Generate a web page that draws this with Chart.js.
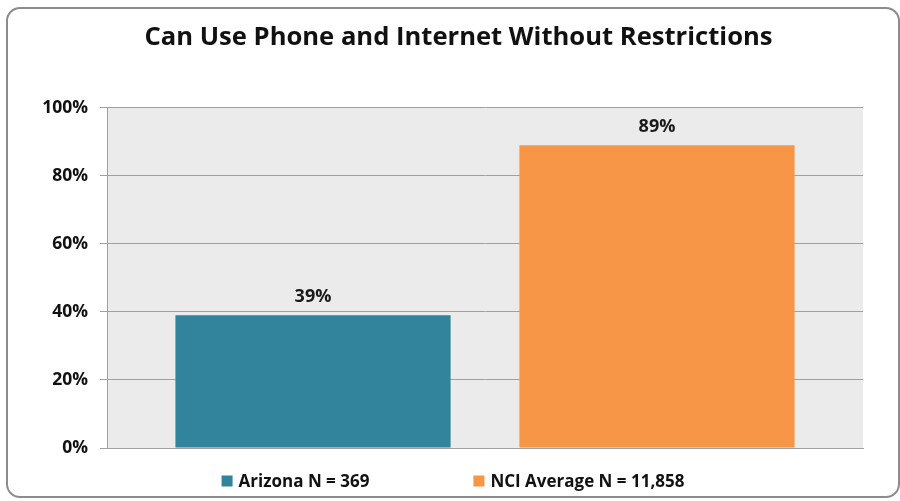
<!DOCTYPE html>
<html>
<head>
<meta charset="utf-8">
<script src="https://cdn.jsdelivr.net/npm/chart.js@4.4.0/dist/chart.umd.min.js"></script>
<style>
  body { margin: 0; background: #fff; }
  #frame {
    position: absolute; left: 6px; top: 7px; width: 890px; height: 487px;
    border: 2px solid #8c8c8c; border-radius: 14px; background: #fff;
  }
  #wrap { position: absolute; left: 0; top: 0; width: 890px; height: 487px; }
</style>
</head>
<body>
<div id="frame"><div id="wrap"><canvas id="chart"></canvas></div></div>
<script>
// data
const categories = [''];
const seriesNames = ['Arizona N = 369', 'NCI Average N = 11,858'];
const seriesValues = [[39], [89]];
const seriesColors = ['#31849b', '#f79646'];
const yTicks = [0, 20, 40, 60, 80, 100];

const fontFamily = '"Open Sans", "DejaVu Sans", sans-serif';

// gray plot area
const plotBg = {
    id: 'plotBg',
    beforeDraw(chart) {
        const a = chart.chartArea;
        const ctx = chart.ctx;
        ctx.save();
        ctx.fillStyle = '#ebebeb';
        ctx.fillRect(a.left, a.top, a.right - a.left, a.bottom - a.top);
        ctx.restore();
    }
};

// value labels above bars
const barLabels = {
    id: 'barLabels',
    afterDatasetsDraw(chart) {
        const ctx = chart.ctx;
        ctx.save();
        ctx.font = 'bold 18px ' + fontFamily;
        ctx.fillStyle = '#1a1a1a';
        ctx.textAlign = 'center';
        ctx.textBaseline = 'middle';
        chart.data.datasets.forEach((ds, i) => {
            chart.getDatasetMeta(i).data.forEach((bar, j) => {
                ctx.fillText(ds.data[j] + '%', bar.x, bar.y - 18);
            });
        });
        ctx.restore();
    }
};

// legend drawn below the plot, Excel-like spacing
const bottomLegend = {
    id: 'bottomLegend',
    afterDraw(chart) {
        const ctx = chart.ctx;
        const box = 11, gap = 6, spacing = 104;
        ctx.save();
        ctx.font = 'bold 17px ' + fontFamily;
        ctx.textBaseline = 'middle';
        const items = chart.data.datasets.map(ds => ({
            text: ds.label, color: ds.backgroundColor,
            w: box + gap + ctx.measureText(ds.label).width
        }));
        const total = items.reduce((s, it) => s + it.w, 0) + spacing * (items.length - 1);
        let x = (chart.width - total) / 2;
        const y = chart.height - 15;
        items.forEach(it => {
            ctx.fillStyle = it.color;
            ctx.fillRect(x, y - box / 2, box, box);
            ctx.fillStyle = '#111';
            ctx.fillText(it.text, x + box + gap, y + 1);
            x += it.w + spacing;
        });
        ctx.restore();
    }
};

new Chart(document.getElementById('chart'), {
    type: 'bar',
    data: {
        labels: categories,
        datasets: seriesNames.map((name, i) => ({
            label: name,
            data: seriesValues[i],
            backgroundColor: seriesColors[i],
            borderWidth: 0,
            categoryPercentage: 0.91,
            barPercentage: 0.8
        }))
    },
    options: {
        responsive: true,
        maintainAspectRatio: false,
        animation: false,
        layout: { padding: { left: 11, right: 0, top: 0, bottom: 40 } },
        plugins: {
            title: {
                display: true,
                text: 'Can Use Phone and Internet Without Restrictions',
                color: '#111',
                font: { family: fontFamily, size: 25.6, weight: 'bold' },
                padding: { top: 13, bottom: 55 }
            },
            legend: { display: false },
            tooltip: { enabled: false }
        },
        scales: {
            x: {
                grid: { display: false },
                border: { color: '#a0a0a0' },
                ticks: { display: false }
            },
            y: {
                min: 0,
                max: 100,
                afterBuildTicks(axis) {
                    axis.ticks = yTicks.map(v => ({ value: v }));
                },
                afterFit(axis) {
                    axis.width = 88;
                },
                border: { color: '#a0a0a0' },
                grid: { color: '#a0a0a0', tickLength: 7 },
                ticks: {
                    color: '#111',
                    padding: 12,
                    font: { family: fontFamily, size: 17.5, weight: 'bold' },
                    callback: v => v + '%'
                }
            },
            // empty right-hand axis, only reserves the right margin
            yRight: {
                position: 'right',
                min: 0,
                max: 100,
                grid: { display: false },
                border: { display: false },
                ticks: { display: false },
                afterFit(axis) {
                    axis.width = 35;
                }
            }
        }
    },
    plugins: [plotBg, barLabels, bottomLegend]
});
</script>
</body>
</html>
